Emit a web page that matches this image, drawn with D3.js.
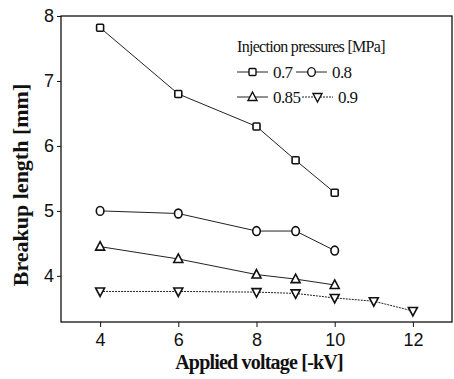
<!DOCTYPE html>
<html lang="en">
<head>
<meta charset="UTF-8">
<title>Breakup length vs applied voltage</title>
<script src="https://cdn.jsdelivr.net/npm/d3@7/dist/d3.min.js"></script>
<style>
  body { margin: 0; background: #fff; }
  svg { display: block; }
</style>
</head>
<body>
<div id="chart"></div>
<script>
// data
const voltage = [4, 6, 8, 9, 10];
const voltageLong = [4, 6, 8, 9, 10, 11, 12];
const p07 = [7.82, 6.8, 6.3, 5.78, 5.28];
const p08 = [5.0, 4.96, 4.69, 4.69, 4.39];
const p085 = [4.45, 4.26, 4.02, 3.95, 3.86];
const p09 = [3.76, 3.76, 3.75, 3.73, 3.66, 3.61, 3.46];
const xTicks = [4, 6, 8, 10, 12];
const yTicks = [4, 5, 6, 7, 8];

const series = [
  { name: '0.7', x: voltage, y: p07, sym: 'square', dash: null },
  { name: '0.8', x: voltage, y: p08, sym: 'circle', dash: null },
  { name: '0.85', x: voltage, y: p085, sym: 'up', dash: null },
  { name: '0.9', x: voltageLong, y: p09, sym: 'down', dash: '2,1' }
];

const W = 454, H = 379;
const m = { left: 61, top: 16, right: 452, bottom: 322 };

const svg = d3.select('#chart').append('svg').attr('width', W).attr('height', H);

const x = d3.scaleLinear().domain([3, 13]).range([m.left, m.right]);
const y = d3.scaleLinear().domain([3.29, 8]).range([m.bottom, m.top]);

// frame
svg.append('rect')
  .attr('x', m.left).attr('y', m.top)
  .attr('width', m.right - m.left).attr('height', m.bottom - m.top)
  .attr('fill', 'none').attr('stroke', '#111').attr('stroke-width', 1.3);

const xAxis = svg.append('g')
  .attr('transform', `translate(0,${m.bottom})`)
  .call(d3.axisBottom(x).tickValues(xTicks).tickFormat(d3.format('d'))
    .tickSize(5).tickSizeOuter(0).tickPadding(6));
const yAxis = svg.append('g')
  .attr('transform', `translate(${m.left},0)`)
  .call(d3.axisLeft(y).tickValues(yTicks).tickFormat(d3.format('d'))
    .tickSize(4).tickSizeOuter(0).tickPadding(3));

[xAxis, yAxis].forEach(g => {
  g.select('.domain').remove();
  g.selectAll('line').attr('stroke', '#111');
  g.selectAll('text')
    .attr('fill', '#111')
    .style('font-family', 'Liberation Sans, Arial, sans-serif')
    .style('font-size', '18px');
});

function marker(g, type, cx, cy) {
  const s = 4;
  if (type === 'square') {
    g.append('rect').attr('x', cx - s + 0.5).attr('y', cy - s + 0.5)
      .attr('width', 2 * s - 1).attr('height', 2 * s - 1).attr('rx', 1);
  } else if (type === 'circle') {
    g.append('ellipse').attr('cx', cx).attr('cy', cy).attr('rx', 3.8).attr('ry', 4.4);
  } else if (type === 'up') {
    g.append('path').attr('d', `M${cx},${cy - 5}L${cx + 4.5},${cy + 3.5}L${cx - 4.5},${cy + 3.5}Z`);
  } else {
    g.append('path').attr('d', `M${cx},${cy + 5}L${cx + 4.5},${cy - 3.5}L${cx - 4.5},${cy - 3.5}Z`);
  }
}

const line = d3.line().x(d => x(d[0])).y(d => y(d[1]));

series.forEach(s => {
  const pts = s.x.map((v, i) => [v, s.y[i]]);
  svg.append('path').datum(pts)
    .attr('d', line)
    .attr('fill', 'none')
    .attr('stroke', '#222')
    .attr('stroke-width', 1)
    .attr('stroke-dasharray', s.dash);
  const g = svg.append('g').attr('fill', '#fff').attr('stroke', '#111').attr('stroke-width', 1.6);
  pts.forEach(p => marker(g, s.sym, x(p[0]), y(p[1])));
});

// legend
const leg = svg.append('g').style('font-family', 'Liberation Serif, Times New Roman, serif');
leg.append('text').attr('x', 237).attr('y', 52)
  .attr('font-size', '16px').attr('letter-spacing', '-0.7px').attr('fill', '#111')
  .text('Injection pressures [MPa]');

const legItems = [
  { s: series[0], x0: 237, cy: 72 },
  { s: series[1], x0: 296, cy: 72 },
  { s: series[2], x0: 237, cy: 97 },
  { s: series[3], x0: 302, cy: 97 }
];
legItems.forEach(it => {
  const len = 31;
  leg.append('line').attr('x1', it.x0).attr('x2', it.x0 + len)
    .attr('y1', it.cy).attr('y2', it.cy)
    .attr('stroke', '#222').attr('stroke-width', 1)
    .attr('stroke-dasharray', it.s.dash);
  const g = leg.append('g').attr('fill', '#fff').attr('stroke', '#111').attr('stroke-width', 1.4);
  marker(g, it.s.sym, it.x0 + len / 2, it.cy);
  leg.append('text').attr('x', it.x0 + len + 5).attr('y', it.cy + 6)
    .attr('font-size', '17px').attr('letter-spacing', '-0.6px').attr('fill', '#111')
    .text(it.s.name);
});

// axis titles
svg.append('text')
  .attr('x', 259).attr('y', 369).attr('text-anchor', 'middle')
  .style('font-family', 'Liberation Serif, Times New Roman, serif')
  .style('font-weight', 'bold').style('font-size', '20px').attr('letter-spacing', '-0.8px')
  .attr('fill', '#111')
  .text('Applied voltage [-kV]');
svg.append('text')
  .attr('transform', 'translate(28,185) rotate(-90)')
  .attr('text-anchor', 'middle')
  .style('font-family', 'Liberation Serif, Times New Roman, serif')
  .style('font-weight', 'bold').style('font-size', '22px')
  .attr('fill', '#111')
  .text('Breakup length [mm]');
</script>
</body>
</html>
